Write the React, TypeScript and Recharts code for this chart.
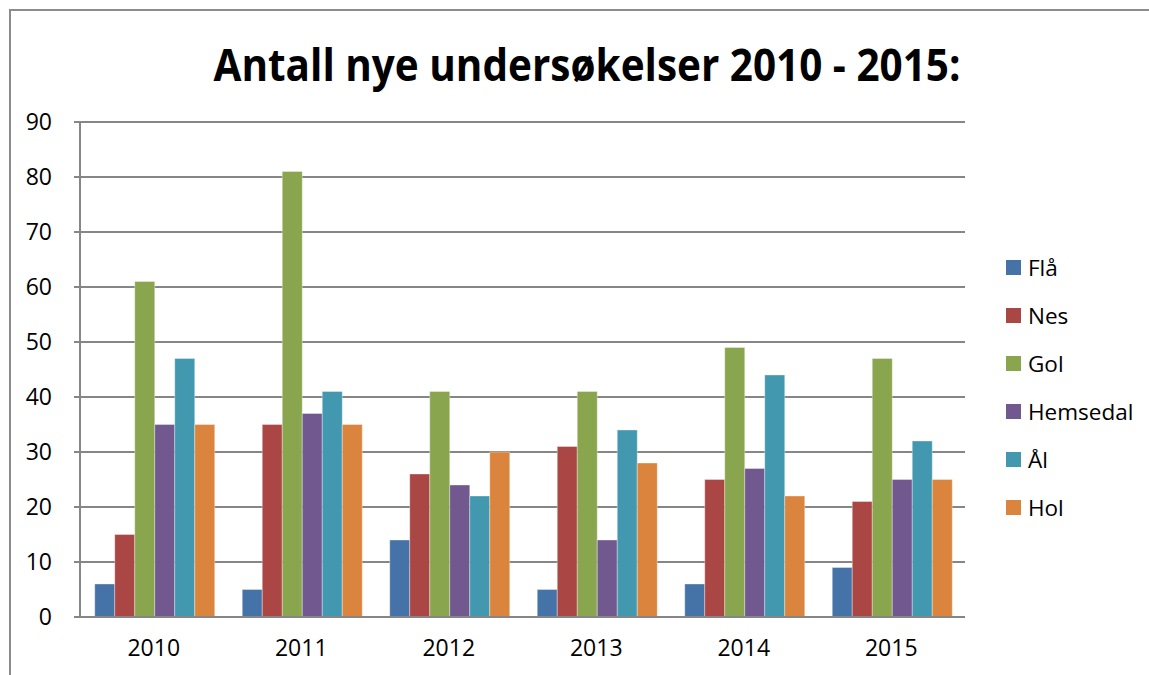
import { BarChart, Bar, XAxis, YAxis, CartesianGrid } from "recharts";

const years = ["2010", "2011", "2012", "2013", "2014", "2015"];

const fla = [6, 5, 14, 5, 6, 9];
const nes = [15, 35, 26, 31, 25, 21];
const gol = [61, 81, 41, 41, 49, 47];
const hemsedal = [35, 37, 24, 14, 27, 25];
const al = [47, 41, 22, 34, 44, 32];
const hol = [35, 35, 30, 28, 22, 25];

const yTicks = [0, 10, 20, 30, 40, 50, 60, 70, 80, 90];

const series = [
  { key: "Flå", values: fla, color: "#4572a7" },
  { key: "Nes", values: nes, color: "#aa4643" },
  { key: "Gol", values: gol, color: "#89a54e" },
  { key: "Hemsedal", values: hemsedal, color: "#71588f" },
  { key: "Ål", values: al, color: "#4198af" },
  { key: "Hol", values: hol, color: "#db843d" },
];

const data = years.map((year, i) => {
  const row: Record<string, string | number> = { year };
  series.forEach((s) => {
    row[s.key] = s.values[i];
  });
  return row;
});

const FONT = "'Open Sans', 'Noto Sans', sans-serif";

function LegendBox() {
  return (
    <div
      style={{
        position: "absolute",
        left: 1006,
        top: 243,
        fontFamily: FONT,
        fontSize: 22.5,
        color: "#000",
      }}
    >
      {series.map((s) => (
        <div
          key={s.key}
          style={{ display: "flex", alignItems: "center", height: 48 }}
        >
          <span
            style={{
              width: 15,
              height: 15,
              background: s.color,
              display: "inline-block",
              marginRight: 7,
            }}
          />
          <span>{s.key}</span>
        </div>
      ))}
    </div>
  );
}

export default function App() {
  return (
    <div
      style={{
        position: "fixed",
        left: 0,
        top: 0,
        width: 1149,
        height: 675,
        overflow: "hidden",
        background: "#fff",
      }}
    >
      <style>{"html, body { margin: 0; overflow: hidden; }"}</style>
      <div
        style={{
          position: "absolute",
          left: 9,
          top: 9,
          width: 1140,
          height: 666,
          borderLeft: "2px solid #8c8c8c",
          borderTop: "2px solid #8c8c8c",
        }}
      />
      <svg
        width={1149}
        height={110}
        style={{ position: "absolute", left: 0, top: 0 }}
      >
        <text
          x={587}
          y={81}
          textAnchor="middle"
          fontFamily={FONT}
          fontWeight="bold"
          fontSize={45}
          textLength={747}
          lengthAdjust="spacingAndGlyphs"
          fill="#000"
        >
          Antall nye undersøkelser 2010 - 2015:
        </text>
      </svg>
      <BarChart
        width={1149}
        height={675}
        data={data}
        margin={{ top: 122, right: 184, bottom: 18, left: 30 }}
        barCategoryGap="10%"
        barGap={0}
        style={{ position: "absolute", left: 0, top: 0 }}
      >
        <CartesianGrid vertical={false} stroke="#868686" strokeWidth={2} />
        <XAxis
          dataKey="year"
          height={40}
          axisLine={{ stroke: "#868686", strokeWidth: 2 }}
          tickLine={false}
          tickMargin={17}
          tick={{ fill: "#000", fontSize: 23, fontFamily: FONT }}
        />
        <YAxis
          width={50}
          domain={[0, 90]}
          ticks={yTicks}
          interval={0}
          axisLine={{ stroke: "#868686", strokeWidth: 2 }}
          tickLine={{ stroke: "#868686", strokeWidth: 2 }}
          tickMargin={22}
          tick={{ fill: "#000", fontSize: 23, fontFamily: FONT }}
        />
        {series.map((s) => (
          <Bar
            key={s.key}
            dataKey={s.key}
            fill={s.color}
            stroke="#ffffff"
            strokeOpacity={0.35}
            strokeWidth={1}
            isAnimationActive={false}
          />
        ))}
      </BarChart>
      <LegendBox />
    </div>
  );
}
